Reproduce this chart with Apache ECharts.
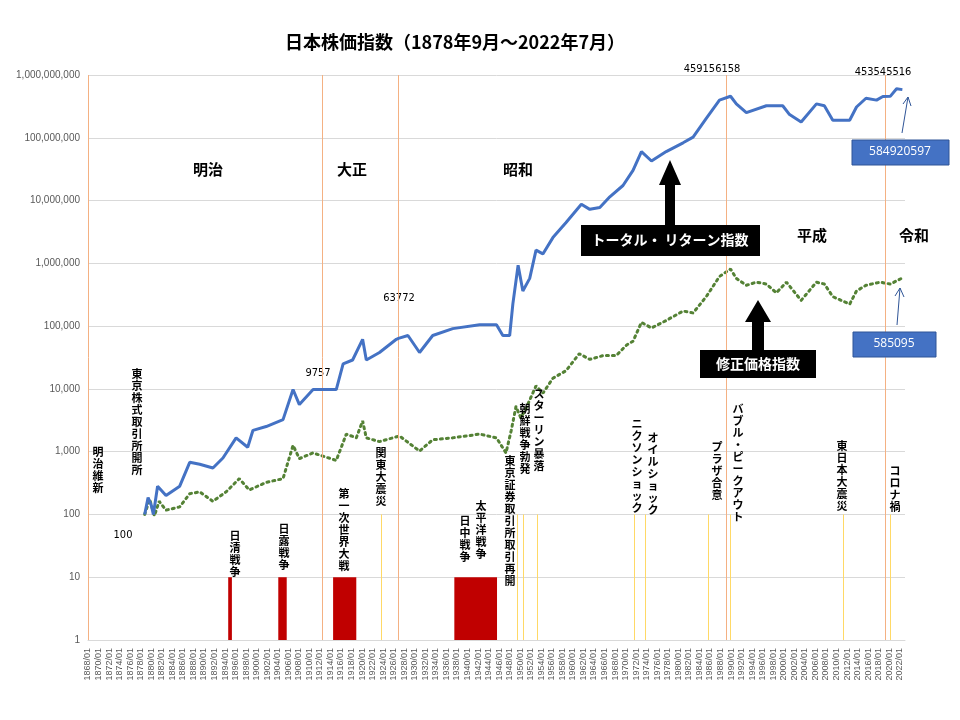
<!DOCTYPE html>
<html>
<head>
<meta charset="utf-8">
<script src="https://cdn.jsdelivr.net/npm/echarts@6/dist/echarts.min.js"></script>
<style>html,body{margin:0;padding:0;background:#fff}#main{width:960px;height:720px}</style>
</head>
<body>
<div id="main"></div>
<script>
// トータル・リターン指数
var totalYears = [1878.75,1879.4,1880.0,1880.4,1881.2,1882.8,1885.4,1887.3,1889.2,1891.7,1893.6,1896.1,1898.3,1899.3,1901.8,1905.0,1906.9,1908.1,1910.7,1912.5,1915.1,1916.4,1918.2,1920.1,1920.8,1923.3,1926.5,1926.9,1928.7,1930.9,1933.4,1937.2,1942.3,1945.5,1946.7,1948.0,1948.6,1949.6,1950.5,1951.8,1953.0,1954.3,1956.2,1958.7,1961.6,1963.2,1965.1,1967.0,1969.5,1971.4,1973.0,1974.9,1977.7,1980.9,1982.8,1985.3,1987.8,1989.9,1991.0,1992.9,1996.7,1999.8,2001.1,2003.3,2006.2,2007.7,2009.3,2012.5,2013.8,2015.6,2017.6,2018.8,2020.2,2021.4,2022.5];
var totalValues = [100,186,141,100,282,200,282,676,631,550,794,1660,1175,2188,2512,3236,9772,5623,9772,9757,9772,25119,28840,61660,28840,38019,61660,63772,70795,38019,70795,91201,104713,104713,70795,70795,223872,933254,363078,575440,1621810,1412538,2570396,4466836,8709636,7244360,7762471,11481536,17378008,30199517,60255959,42657952,60255959,83176377,102329299,204173794,398107171,459156158,346736850,251188643,323593657,323593657,234422882,177827941,346736850,323593657,190546072,190546072,309029543,426579519,398107171,453545516,457088190,602559586,584920597];

// 修正価格指数
var priceYears = [1878.75,1879.7,1880.6,1881.5,1882.8,1885.4,1887.3,1889.2,1891.7,1894.2,1896.7,1898.6,1901.8,1905.0,1906.9,1908.1,1910.7,1915.1,1917.0,1918.9,1920.1,1920.8,1923.3,1927.1,1930.9,1933.4,1937.2,1942.3,1945.5,1947.3,1948.3,1949.2,1950.1,1951.1,1953.0,1954.3,1956.2,1958.7,1961.2,1963.2,1965.7,1968.2,1970.2,1971.4,1973.0,1974.9,1977.7,1980.9,1982.8,1985.3,1987.8,1989.9,1991.0,1992.9,1994.8,1996.7,1998.6,2000.5,2003.3,2006.2,2007.7,2009.3,2012.5,2013.8,2015.6,2018.3,2020.2,2022.5];
var priceValues = [100,174,95,162,117,132,214,229,162,229,372,245,324,372,1259,776,955,724,1905,1660,3090,1660,1445,1778,1023,1549,1660,1905,1660,955,2188,5248,3467,4898,11220,8511,14791,19498,36308,29512,33884,33884,50119,57544,114815,93325,123027,173780,162181,295121,616595,812831,575440,446684,501187,467735,338844,501187,257040,501187,467735,295121,223872,363078,446684,501187,467735,585095];

// 戦争期間（赤帯）
var warRanges = [[1894.6,1895.3],[1904.1,1905.7],[1914.5,1918.9],[1937.5,1945.6]];
// 元号の境目
var eraLines = [1868.0,1912.5,1926.95,1989.0,2019.3];
// 出来事
var eventLines = [1923.7,1949.4,1950.5,1953.2,1971.6,1973.8,1985.7,1989.9,2011.2,2020.2];

function vtext(s) { return s.split('').join('\n'); }

var myChart = echarts.init(document.getElementById('main'));

var labelFont = { fontFamily: 'Noto Sans CJK JP', fontWeight: 'bold', fill: '#000' };
var graphics = [];
function addText(x, y, text, size, align, extra) {
    graphics.push({
        type: 'text', left: x, top: y, z: 100,
        style: Object.assign({ text: text, fontSize: size, fontFamily: 'Noto Sans CJK JP', fontWeight: 'bold', fill: '#000', textAlign: align || 'left' }, extra || {})
    });
}
function addVText(xc, y, text) {
    graphics.push({
        type: 'text', x: xc, y: y, z: 100,
        style: { text: vtext(text), fontSize: 11, lineHeight: 12, fontFamily: 'Noto Sans CJK JP', fontWeight: 'bold', fill: '#000', align: 'center' }
    });
}

// title
graphics.push({ type: 'text', x: 455, y: 33, style: { text: '日本株価指数（1878年9月～2022年7月）', fontSize: 18, fontWeight: 'bold', fontFamily: 'Noto Sans CJK JP', fill: '#000', align: 'center' } });
// eras
[['明治', 208, 162], ['大正', 352, 162], ['昭和', 518, 162], ['平成', 812, 228], ['令和', 914, 228]].forEach(function (e) {
    graphics.push({ type: 'text', x: e[1], y: e[2], style: { text: e[0], fontSize: 15, fontWeight: 'bold', fontFamily: 'Noto Sans CJK JP', fill: '#000', align: 'center' } });
});
// value labels
[['100', 123, 530], ['9757', 318, 368], ['63772', 399, 293], ['459156158', 712, 64], ['453545516', 883, 67]].forEach(function (e) {
    graphics.push({ type: 'text', x: e[1], y: e[2], style: { text: e[0], fontSize: 11, fontFamily: 'DejaVu Sans Condensed', fill: '#000', align: 'center' } });
});
// event labels
[
    [98, 446, '明治維新'], [137, 368, '東京株式取引所開所'], [235, 530, '日清戦争'], [284, 523, '日露戦争'],
    [344, 488, '第一次世界大戦'], [381, 447, '関東大震災'], [465, 515, '日中戦争'], [481, 500, '太平洋戦争'],
    [510, 455, '東京証券取引所取引再開'], [525, 403, '朝鮮戦争勃発'], [539, 388, 'スターリン暴落'],
    [637, 418, 'ニクソンショック'], [653, 432, 'オイルショック'], [717, 441, 'プラザ合意'],
    [738, 403, 'バブル・ピークアウト'], [842, 440, '東日本大震災'], [895, 465, 'コロナ禍']
].forEach(function (e) { addVText(e[0], e[1], e[2]); });

// black label boxes with arrows
graphics.push({ type: 'polygon', z: 90, shape: { points: [[665, 225], [665, 185], [659, 185], [670, 160], [681, 185], [675, 185], [675, 225]] }, style: { fill: '#000' } });
graphics.push({ type: 'rect', z: 90, shape: { x: 581, y: 225, width: 179, height: 31 }, style: { fill: '#000' } });
graphics.push({ type: 'text', z: 95, x: 670, y: 233, style: { text: 'トータル・ リターン指数', fontSize: 14, fontWeight: 'bold', fontFamily: 'Noto Sans CJK JP', fill: '#fff', align: 'center' } });
graphics.push({ type: 'polygon', z: 90, shape: { points: [[752, 350], [752, 322], [745, 322], [758, 300], [771, 322], [764, 322], [764, 350]] }, style: { fill: '#000' } });
graphics.push({ type: 'rect', z: 90, shape: { x: 700, y: 350, width: 116, height: 28 }, style: { fill: '#000' } });
graphics.push({ type: 'text', z: 95, x: 758, y: 357, style: { text: '修正価格指数', fontSize: 14, fontWeight: 'bold', fontFamily: 'Noto Sans CJK JP', fill: '#fff', align: 'center' } });

// blue value boxes
graphics.push({ type: 'rect', z: 90, shape: { x: 852, y: 140, width: 97, height: 25 }, style: { fill: '#4472c4', stroke: '#2f5597' } });
graphics.push({ type: 'text', z: 95, x: 900, y: 146, style: { text: '584920597', fontSize: 12, fontFamily: 'Open Sans', fill: '#fff', align: 'center' } });
graphics.push({ type: 'rect', z: 90, shape: { x: 853, y: 332, width: 83, height: 25 }, style: { fill: '#4472c4', stroke: '#2f5597' } });
graphics.push({ type: 'text', z: 95, x: 894, y: 338, style: { text: '585095', fontSize: 12, fontFamily: 'Open Sans', fill: '#fff', align: 'center' } });
// thin arrows
graphics.push({ type: 'polyline', z: 90, shape: { points: [[902, 133], [908, 97]] }, style: { stroke: '#2f5597', lineWidth: 1 } });
graphics.push({ type: 'polyline', z: 90, shape: { points: [[903, 104], [908, 97], [911, 106]] }, style: { stroke: '#2f5597', lineWidth: 1, fill: null } });
graphics.push({ type: 'polyline', z: 90, shape: { points: [[897, 325], [900, 288]] }, style: { stroke: '#2f5597', lineWidth: 1 } });
graphics.push({ type: 'polyline', z: 90, shape: { points: [[895, 296], [900, 288], [904, 297]] }, style: { stroke: '#2f5597', lineWidth: 1, fill: null } });

var option = {
    backgroundColor: '#fff',
    animation: false,
    textStyle: { fontFamily: 'Noto Sans CJK JP' },
    grid: { left: 88, right: 55, top: 75, bottom: 80 },
    xAxis: {
        type: 'value',
        min: 1868, max: 2023, interval: 2,
        axisLabel: {
            rotate: 90, fontSize: 9, color: '#595959', fontFamily: 'Liberation Sans',
            formatter: function (v) { return v <= 2022 ? v + '/01' : ''; }
        },
        axisLine: { lineStyle: { color: '#d9d9d9' } },
        axisTick: { show: false },
        splitLine: { show: false }
    },
    yAxis: {
        type: 'log', logBase: 10, min: 1, max: 1000000000,
        axisLabel: {
            fontSize: 10, color: '#595959', fontFamily: 'Liberation Sans',
            formatter: function (v) { return Math.round(v).toLocaleString('en-US'); }
        },
        axisLine: { show: false },
        axisTick: { show: false },
        splitLine: { lineStyle: { color: '#d9d9d9' } }
    },
    series: [
        {
            name: 'トータル・リターン指数', type: 'line', symbol: 'none', z: 5,
            data: totalYears.map(function (y, i) { return [y, totalValues[i]]; }),
            lineStyle: { color: '#4472c4', width: 3 },
            markArea: {
                silent: true,
                itemStyle: { color: '#c00000' },
                data: warRanges.map(function (r) { return [{ coord: [r[0], 1] }, { coord: [r[1], 10] }]; })
            },
            markLine: {
                silent: true, symbol: 'none', label: { show: false },
                data: eraLines.map(function (x) { return [{ coord: [x, 1] }, { coord: [x, 1000000000] }]; })
                    .map(function (d) { d[0].lineStyle = { color: '#f4b183', width: 1, type: 'solid' }; return d; })
                    .concat(eventLines.map(function (x) { return [{ coord: [x, 1], lineStyle: { color: '#ffd966', width: 1, type: 'solid' } }, { coord: [x, 100] }]; }))
            }
        },
        {
            name: '修正価格指数', type: 'line', symbol: 'none', z: 4,
            data: priceYears.map(function (y, i) { return [y, priceValues[i]]; }),
            lineStyle: { color: '#548235', width: 3, type: [2, 4], cap: 'round' }
        }
    ],
    graphic: graphics
};

myChart.setOption(option);
</script>
</body>
</html>
